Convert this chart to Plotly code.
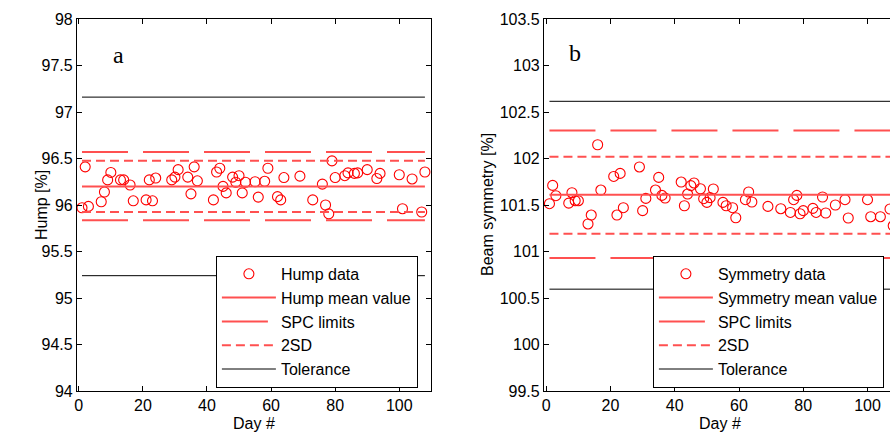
import plotly.graph_objects as go

# ---------------- data ----------------
days = [1, 2, 3, 7, 8, 9, 10, 13, 14, 16, 17, 21, 22, 23, 24, 29, 30, 31, 34, 35,
        36, 37, 42, 43, 44, 45, 46, 48, 49, 50, 51, 52, 55, 56, 58, 59, 62, 63, 64, 69,
        73, 76, 77, 78, 79, 80, 83, 84, 86, 87, 90, 93, 94, 100, 101, 104, 107, 108]

hump = [95.97, 96.41, 95.985, 96.035, 96.14, 96.27, 96.35, 96.27, 96.27, 96.215,
        96.045, 96.055, 96.27, 96.045, 96.29, 96.27, 96.30, 96.38, 96.30, 96.12,
        96.41, 96.26, 96.055, 96.355, 96.395, 96.20, 96.13, 96.30, 96.245, 96.315,
        96.13, 96.245, 96.25, 96.085, 96.255, 96.395, 96.09, 96.055, 96.295, 96.31,
        96.055, 96.225, 96.0, 95.905, 96.475, 96.295, 96.315, 96.345, 96.34, 96.345,
        96.38, 96.285, 96.34, 96.325, 95.96, 96.28, 95.925, 96.355]

symmetry = [101.514, 101.711, 101.60, 101.52, 101.632, 101.546, 101.546, 101.296, 101.392, 102.148,
            101.661, 101.807, 101.392, 101.84, 101.471, 101.909, 101.439, 101.571, 101.661, 101.797,
            101.603, 101.575, 101.747, 101.492, 101.618, 101.708, 101.737, 101.675, 101.568, 101.528,
            101.579, 101.672, 101.528, 101.492, 101.471, 101.363, 101.557, 101.64, 101.532, 101.485,
            101.46, 101.42, 101.557, 101.603, 101.406, 101.439, 101.464, 101.42, 101.586, 101.414,
            101.5, 101.557, 101.36, 101.557, 101.374, 101.374, 101.457, 101.277]

hump_mean = 96.20
hump_spc = [95.835, 96.57]
hump_2sd = [95.925, 96.477]
hump_tol = [95.24, 97.16]

sym_mean = 101.61
sym_spc = [100.93, 102.30]
sym_2sd = [101.19, 102.02]
sym_tol = [100.595, 102.615]

x_ticks = [0, 20, 40, 60, 80, 100]
hump_ticks = [94, 94.5, 95, 95.5, 96, 96.5, 97, 97.5, 98]
sym_ticks = [99.5, 100, 100.5, 101, 101.5, 102, 102.5, 103, 103.5]

# ---------------- styling ----------------
W, H = 890, 436
ML, MR, MT, MB = 77, 0, 19, 45
PW, PH = W - ML - MR, H - MT - MB
FONT = "Liberation Sans, Arial, sans-serif"
RED = "#ff0000"
LRED = "rgb(255,80,80)"
span = [days[0], days[-1]]


def px(x):
    return (x - ML) / PW


def py(y):
    return (H - MB - y) / PH


fig = go.Figure()


def add_panel(vals, mean, spc, sd2, tol, name, xa, ya, leg):
    fig.add_trace(go.Scatter(
        x=days, y=vals, mode="markers", name=f"{name} data",
        marker=dict(symbol="circle-open", size=10, color=RED, line=dict(width=1.1, color=RED)),
        xaxis=xa, yaxis=ya, legend=leg))
    fig.add_trace(go.Scatter(
        x=span, y=[mean, mean], mode="lines", name=f"{name} mean value",
        line=dict(color=LRED, width=2), xaxis=xa, yaxis=ya, legend=leg))
    fig.add_trace(go.Scatter(
        x=span + [None] + span, y=[spc[1], spc[1], None, spc[0], spc[0]],
        mode="lines", name="SPC limits",
        line=dict(color=LRED, width=2, dash="46px,15px"), xaxis=xa, yaxis=ya, legend=leg))
    fig.add_trace(go.Scatter(
        x=span + [None] + span, y=[sd2[1], sd2[1], None, sd2[0], sd2[0]],
        mode="lines", name="2SD",
        line=dict(color=LRED, width=2, dash="9px,5px"), xaxis=xa, yaxis=ya, legend=leg))
    fig.add_trace(go.Scatter(
        x=span + [None] + span, y=[tol[1], tol[1], None, tol[0], tol[0]],
        mode="lines", name="Tolerance",
        line=dict(color="black", width=1), xaxis=xa, yaxis=ya, legend=leg))


add_panel(hump, hump_mean, hump_spc, hump_2sd, hump_tol, "Hump", "x", "y", "legend")
add_panel(symmetry, sym_mean, sym_spc, sym_2sd, sym_tol, "Symmetry", "x2", "y2", "legend2")

axis_common = dict(showline=True, linecolor="black", linewidth=1.2, ticks="inside",
                   ticklen=5, tickcolor="black", showgrid=False, zeroline=False,
                   automargin=False,
                   tickfont=dict(family=FONT, size=16, color="black"))

legend_common = dict(xanchor="left", yanchor="top", bgcolor="white",
                     bordercolor="black", borderwidth=1.2,
                     font=dict(family=FONT, size=16, color="black"),
                     itemwidth=54, tracegroupgap=0)

fig.update_layout(
    template="none",
    width=W, height=H, margin=dict(l=ML, r=MR, t=MT, b=MB, pad=0, autoexpand=False),
    paper_bgcolor="white", plot_bgcolor="white",
    font=dict(family=FONT, size=16, color="black"),
    xaxis=dict(domain=[0, px(431)], range=[-0.56, 109.9], tickvals=x_ticks,
               mirror="ticks", anchor="y", **axis_common),
    yaxis=dict(domain=[0, 1], range=[94, 98], tickvals=hump_ticks, mirror="ticks",
               anchor="x", **axis_common),
    xaxis2=dict(domain=[px(544), 1.0], range=[-0.7, 107.0], tickvals=x_ticks,
                mirror="ticks", anchor="y2", **axis_common),
    yaxis2=dict(domain=[0, 1], range=[99.5, 103.5], tickvals=sym_ticks, mirror=False,
                anchor="x2", **axis_common),
    legend=dict(x=px(215.7), y=py(255.7), **legend_common),
    legend2=dict(x=px(652.7), y=py(255.7), **legend_common),
    showlegend=True,
)

annots = [
    dict(text="a", x=px(118), y=py(55), font=dict(family="Liberation Serif, serif", size=24, color="black")),
    dict(text="b", x=px(575), y=py(53), font=dict(family="Liberation Serif, serif", size=24, color="black")),
    dict(text="Hump [%]", x=px(41), y=py(205), textangle=-90),
    dict(text="Beam symmetry [%]", x=px(487), y=py(205), textangle=-90),
    dict(text="Day #", x=px(254), y=py(424)),
    dict(text="Day #", x=px(720), y=py(424)),
]
for a in annots:
    a.setdefault("font", dict(family=FONT, size=16, color="black"))
    fig.add_annotation(xref="paper", yref="paper", showarrow=False,
                       xanchor="center", yanchor="middle", **a)

fig.write_html("out.html", config={"displayModeBar": False},
               post_script="document.body.style.margin='0';")
